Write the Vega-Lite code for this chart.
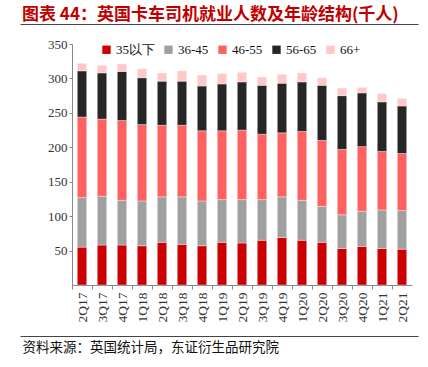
{
  "$schema": "https://vega.github.io/schema/vega-lite/v6.json",
  "width": 340,
  "height": 241,
  "autosize": {"type": "none"},
  "padding": {"left": 72, "top": 44, "right": 16, "bottom": 82},
  "background": "white",
  "title": {
    "text": "图表 44：英国卡车司机就业人数及年龄结构(千人)",
    "anchor": "start",
    "frame": "group",
    "dx": -50,
    "dy": 19,
    "offset": 6,
    "baseline": "alphabetic",
    "font": "Noto Sans CJK SC",
    "fontSize": 17,
    "fontWeight": "bold",
    "color": "#C00000"
  },
  "data": {
    "values": [
      {"q": "2Q17", "g": "35以下", "v": 55, "o": 1}, {"q": "2Q17", "g": "36-45", "v": 72, "o": 2}, {"q": "2Q17", "g": "46-55", "v": 117, "o": 3}, {"q": "2Q17", "g": "56-65", "v": 67, "o": 4}, {"q": "2Q17", "g": "66+", "v": 11, "o": 5},
      {"q": "3Q17", "g": "35以下", "v": 58, "o": 1}, {"q": "3Q17", "g": "36-45", "v": 71, "o": 2}, {"q": "3Q17", "g": "46-55", "v": 112, "o": 3}, {"q": "3Q17", "g": "56-65", "v": 67, "o": 4}, {"q": "3Q17", "g": "66+", "v": 11, "o": 5},
      {"q": "4Q17", "g": "35以下", "v": 58, "o": 1}, {"q": "4Q17", "g": "36-45", "v": 65, "o": 2}, {"q": "4Q17", "g": "46-55", "v": 116, "o": 3}, {"q": "4Q17", "g": "56-65", "v": 71, "o": 4}, {"q": "4Q17", "g": "66+", "v": 11, "o": 5},
      {"q": "1Q18", "g": "35以下", "v": 57, "o": 1}, {"q": "1Q18", "g": "36-45", "v": 65, "o": 2}, {"q": "1Q18", "g": "46-55", "v": 111, "o": 3}, {"q": "1Q18", "g": "56-65", "v": 68, "o": 4}, {"q": "1Q18", "g": "66+", "v": 13, "o": 5},
      {"q": "2Q18", "g": "35以下", "v": 62, "o": 1}, {"q": "2Q18", "g": "36-45", "v": 66, "o": 2}, {"q": "2Q18", "g": "46-55", "v": 104, "o": 3}, {"q": "2Q18", "g": "56-65", "v": 64, "o": 4}, {"q": "2Q18", "g": "66+", "v": 12, "o": 5},
      {"q": "3Q18", "g": "35以下", "v": 59, "o": 1}, {"q": "3Q18", "g": "36-45", "v": 69, "o": 2}, {"q": "3Q18", "g": "46-55", "v": 104, "o": 3}, {"q": "3Q18", "g": "56-65", "v": 64, "o": 4}, {"q": "3Q18", "g": "66+", "v": 15, "o": 5},
      {"q": "4Q18", "g": "35以下", "v": 57, "o": 1}, {"q": "4Q18", "g": "36-45", "v": 65, "o": 2}, {"q": "4Q18", "g": "46-55", "v": 102, "o": 3}, {"q": "4Q18", "g": "56-65", "v": 65, "o": 4}, {"q": "4Q18", "g": "66+", "v": 16, "o": 5},
      {"q": "1Q19", "g": "35以下", "v": 62, "o": 1}, {"q": "1Q19", "g": "36-45", "v": 62, "o": 2}, {"q": "1Q19", "g": "46-55", "v": 100, "o": 3}, {"q": "1Q19", "g": "56-65", "v": 68, "o": 4}, {"q": "1Q19", "g": "66+", "v": 15, "o": 5},
      {"q": "2Q19", "g": "35以下", "v": 61, "o": 1}, {"q": "2Q19", "g": "36-45", "v": 63, "o": 2}, {"q": "2Q19", "g": "46-55", "v": 101, "o": 3}, {"q": "2Q19", "g": "56-65", "v": 70, "o": 4}, {"q": "2Q19", "g": "66+", "v": 14, "o": 5},
      {"q": "3Q19", "g": "35以下", "v": 65, "o": 1}, {"q": "3Q19", "g": "36-45", "v": 59, "o": 2}, {"q": "3Q19", "g": "46-55", "v": 95, "o": 3}, {"q": "3Q19", "g": "56-65", "v": 71, "o": 4}, {"q": "3Q19", "g": "66+", "v": 12, "o": 5},
      {"q": "4Q19", "g": "35以下", "v": 69, "o": 1}, {"q": "4Q19", "g": "36-45", "v": 59, "o": 2}, {"q": "4Q19", "g": "46-55", "v": 93, "o": 3}, {"q": "4Q19", "g": "56-65", "v": 72, "o": 4}, {"q": "4Q19", "g": "66+", "v": 13, "o": 5},
      {"q": "1Q20", "g": "35以下", "v": 65, "o": 1}, {"q": "1Q20", "g": "36-45", "v": 58, "o": 2}, {"q": "1Q20", "g": "46-55", "v": 100, "o": 3}, {"q": "1Q20", "g": "56-65", "v": 72, "o": 4}, {"q": "1Q20", "g": "66+", "v": 13, "o": 5},
      {"q": "2Q20", "g": "35以下", "v": 62, "o": 1}, {"q": "2Q20", "g": "36-45", "v": 52, "o": 2}, {"q": "2Q20", "g": "46-55", "v": 96, "o": 3}, {"q": "2Q20", "g": "56-65", "v": 80, "o": 4}, {"q": "2Q20", "g": "66+", "v": 11, "o": 5},
      {"q": "3Q20", "g": "35以下", "v": 53, "o": 1}, {"q": "3Q20", "g": "36-45", "v": 49, "o": 2}, {"q": "3Q20", "g": "46-55", "v": 95, "o": 3}, {"q": "3Q20", "g": "56-65", "v": 78, "o": 4}, {"q": "3Q20", "g": "66+", "v": 11, "o": 5},
      {"q": "4Q20", "g": "35以下", "v": 56, "o": 1}, {"q": "4Q20", "g": "36-45", "v": 51, "o": 2}, {"q": "4Q20", "g": "46-55", "v": 94, "o": 3}, {"q": "4Q20", "g": "56-65", "v": 78, "o": 4}, {"q": "4Q20", "g": "66+", "v": 8, "o": 5},
      {"q": "1Q21", "g": "35以下", "v": 53, "o": 1}, {"q": "1Q21", "g": "36-45", "v": 56, "o": 2}, {"q": "1Q21", "g": "46-55", "v": 85, "o": 3}, {"q": "1Q21", "g": "56-65", "v": 72, "o": 4}, {"q": "1Q21", "g": "66+", "v": 12, "o": 5},
      {"q": "2Q21", "g": "35以下", "v": 52, "o": 1}, {"q": "2Q21", "g": "36-45", "v": 56, "o": 2}, {"q": "2Q21", "g": "46-55", "v": 83, "o": 3}, {"q": "2Q21", "g": "56-65", "v": 69, "o": 4}, {"q": "2Q21", "g": "66+", "v": 11, "o": 5}
    ]
  },
  "layer": [
    {
      "mark": {"type": "bar", "stroke": "#ffffff", "strokeWidth": 0.6, "strokeOpacity": 0.6},
      "encoding": {
        "x": {
          "field": "q", "type": "ordinal", "sort": null,
          "scale": {"paddingInner": 0.53, "paddingOuter": 0.265},
          "axis": {
            "title": null, "labelAngle": 270, "labelFont": "Liberation Serif", "labelFontSize": 13.5,
            "labelColor": "#333333", "tickOffset": -10, "labelOffset": 10, "tickSize": 4,
            "tickColor": "#888888", "domainColor": "#888888", "labelPadding": 3
          }
        },
        "y": {
          "field": "v", "type": "quantitative", "stack": "zero",
          "scale": {"domain": [0, 350], "nice": false},
          "axis": {
            "title": null, "grid": false, "values": [50, 100, 150, 200, 250, 300, 350],
            "labelFont": "Liberation Serif", "labelFontSize": 13, "labelColor": "#333333",
            "tickSize": 3, "labelPadding": 2, "tickColor": "#888888", "domainColor": "#888888"
          }
        },
        "color": {
          "field": "g", "type": "nominal",
          "scale": {
            "domain": ["35以下", "36-45", "46-55", "56-65", "66+"],
            "range": ["#CC0000", "#A0A0A0", "#FF6161", "#262626", "#FFC7C7"]
          },
          "legend": {
            "orient": "none", "legendX": 28, "legendY": -1, "direction": "horizontal",
            "title": null, "symbolType": "square", "symbolSize": 70, "symbolStrokeWidth": 0,
            "labelFont": "Liberation Serif", "labelFontSize": 13, "labelColor": "#111111",
            "columnPadding": 7, "labelOffset": 3
          }
        },
        "order": {"field": "o", "type": "quantitative"}
      }
    },
    {
      "mark": {"type": "rule", "opacity": 0},
      "encoding": {
        "x": {
          "field": "q", "type": "ordinal", "sort": null,
          "scale": {"range": [-52, 346]},
          "axis": {"orient": "top", "offset": 20, "labels": false, "ticks": false, "title": null, "domainColor": "#444444", "domainWidth": 1}
        }
      }
    },
    {
      "mark": {"type": "rule", "opacity": 0},
      "encoding": {
        "x": {
          "field": "q", "type": "ordinal", "sort": null,
          "scale": {"range": [-52, 346]},
          "axis": {
            "orient": "bottom", "offset": 51, "labels": false, "ticks": false,
            "domainColor": "#444444", "domainWidth": 1,
            "title": "资料来源：英国统计局，东证衍生品研究院",
            "titleFont": "Noto Sans CJK SC", "titleFontSize": 13.5, "titleFontWeight": "normal",
            "titleColor": "#111111", "titleAnchor": "start", "titleAlign": "left",
            "titleBaseline": "alphabetic", "titleX": -50, "titleY": 15
          }
        }
      }
    }
  ],
  "resolve": {"scale": {"x": "independent"}, "axis": {"x": "independent"}},
  "config": {"view": {"stroke": null}}
}
